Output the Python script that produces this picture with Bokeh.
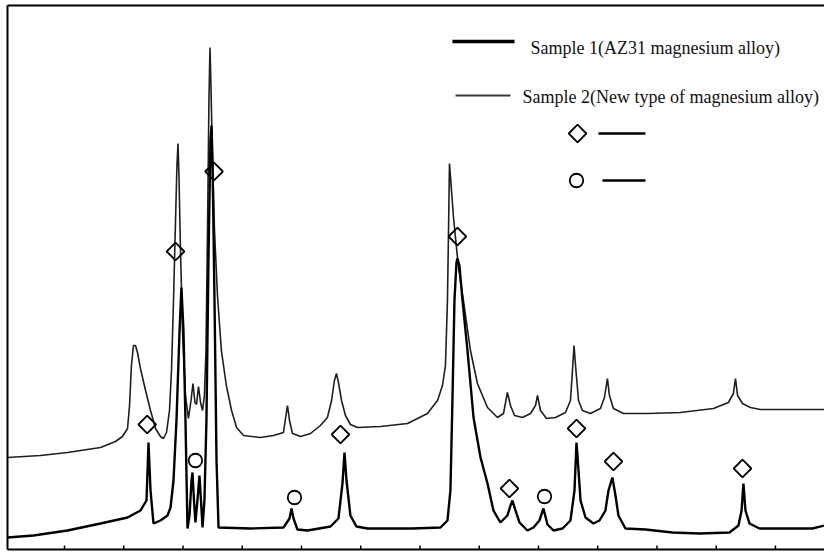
import numpy as np
from bokeh.plotting import figure
from bokeh.models import Range1d, FixedTicker, LinearAxis, ColumnDataSource
from bokeh.core.properties import value
from bokeh.embed import file_html
from bokeh.resources import INLINE

# ---------------- data (2-theta in degrees, intensity in arbitrary units) ----------------
x_ticks = [15, 20, 25, 30, 35, 40, 45, 50, 55, 60, 65, 70, 75]

sample1_2theta = [10.19, 12.38, 15.25, 18.04, 20.32, 21.41, 21.92, 22.09, 22.26, 22.51,
                  23.10, 23.69, 23.95, 24.20, 24.45, 24.71, 24.87, 25.04, 25.21, 25.38,
                  25.55, 25.72, 25.80, 25.93, 26.05, 26.22, 26.39, 26.52, 26.65, 26.81,
                  26.98, 27.15, 27.32, 27.41, 27.49, 27.66, 27.83, 28.00, 30.70, 33.48,
                  33.99, 34.16, 34.33, 34.66, 35.51, 37.45, 38.12, 38.46, 38.63, 38.80,
                  39.13, 39.64, 40.57, 44.37, 46.73, 47.32, 47.57, 47.74, 47.91, 48.08,
                  48.16, 48.33, 48.59, 49.01, 49.52, 50.11, 50.70, 51.20, 51.79, 52.38,
                  52.64, 52.81, 52.98, 53.40, 54.07, 54.58, 55.08, 55.42, 55.76, 56.27,
                  57.03, 57.70, 58.04, 58.21, 58.38, 58.55, 58.97, 59.64, 60.15, 60.65,
                  60.91, 61.24, 61.50, 61.75, 62.34, 64.03, 66.31, 68.59, 71.12, 71.88,
                  72.14, 72.30, 72.47, 72.81, 73.65, 78.12, 79.14]
sample1_intensity = [12, 14, 19, 26, 32, 39, 49, 107, 59, 26,
                     29, 34, 42, 69, 129, 219, 262, 219, 129, 21,
                     34, 69, 77, 49, 27, 49, 74, 49, 22, 49,
                     129, 289, 409, 424, 389, 249, 89, 22, 21, 22,
                     31, 41, 31, 20, 19, 23, 31, 66, 97, 69,
                     34, 23, 21, 21, 22, 29, 59, 149, 249, 287,
                     291, 284, 249, 199, 132, 92, 66, 39, 27, 34,
                     44, 49, 42, 27, 19, 22, 29, 41, 25, 19,
                     21, 29, 59, 107, 79, 49, 32, 26, 29, 39,
                     59, 72, 54, 34, 21, 20, 17, 16, 17, 24,
                     39, 66, 39, 26, 21, 21, 24]

sample2_2theta = [10.19, 12.97, 15.25, 18.04, 19.30, 19.89, 20.32, 20.49, 20.65, 20.82,
                  20.99, 21.16, 21.41, 21.84, 22.26, 22.68, 23.10, 23.35, 23.61, 23.86,
                  24.03, 24.20, 24.37, 24.49, 24.58, 24.66, 24.79, 24.96, 25.21, 25.46,
                  25.68, 25.84, 26.01, 26.14, 26.31, 26.48, 26.65, 26.81, 26.94, 27.07,
                  27.19, 27.28, 27.36, 27.49, 27.66, 27.91, 28.24, 28.66, 29.10, 29.52,
                  30.11, 31.54, 32.64, 33.48, 33.69, 33.82, 33.99, 34.24, 34.92, 35.76,
                  36.60, 37.19, 37.54, 37.78, 37.95, 38.12, 38.38, 38.71, 39.13, 39.73,
                  41.67, 43.95, 45.63, 46.48, 46.90, 47.15, 47.32, 47.41, 47.49, 47.57,
                  47.66, 47.83, 48.25, 48.67, 49.26, 49.85, 50.70, 51.54, 52.05, 52.38,
                  52.64, 52.98, 53.65, 54.33, 54.75, 54.92, 55.17, 55.68, 56.43, 57.28,
                  57.70, 57.87, 58.00, 58.13, 58.38, 58.71, 59.39, 60.23, 60.57, 60.82,
                  60.99, 61.33, 62.17, 64.20, 66.98, 69.77, 71.03, 71.45, 71.63, 71.80,
                  72.22, 72.89, 73.73, 79.14]
sample2_intensity = [92, 94, 97, 102, 108, 113, 121, 144, 184, 204,
                     204, 197, 181, 159, 139, 121, 113, 111, 117, 139,
                     179, 249, 329, 384, 406, 374, 299, 219, 154, 131,
                     149, 166, 147, 145, 163, 147, 139, 154, 199, 319,
                     449, 502, 464, 389, 319, 254, 199, 164, 139, 122,
                     114, 112, 114, 117, 134, 144, 129, 116, 113, 116,
                     124, 132, 149, 169, 176, 167, 149, 134, 125, 122,
                     123, 126, 136, 149, 164, 184, 249, 319, 386, 374,
                     359, 332, 282, 249, 199, 166, 142, 132, 136, 157,
                     144, 134, 132, 136, 144, 154, 139, 131, 132, 137,
                     149, 179, 204, 184, 149, 139, 136, 141, 152, 171,
                     154, 141, 136, 136, 137, 141, 147, 156, 171, 154,
                     146, 142, 140, 140]

diamond_2theta = [21.98, 24.37, 27.62, 38.29, 48.16, 52.55, 58.21, 61.33, 72.22]
diamond_intensity = [125, 298, 378, 115, 313, 61, 121, 88, 81]
circle_2theta = [26.05, 34.41, 55.51]
circle_intensity = [89, 52, 53]

legend_labels = ["Sample 1(AZ31 magnesium alloy)", "Sample 2(New type of magnesium alloy)"]

# ---------------- figure ----------------
p = figure(width=824, height=552, output_backend="svg", toolbar_location=None,
           x_range=Range1d(10.19, 79.14), y_range=Range1d(0, 544),
           min_border_left=7, min_border_right=0, min_border_top=5, min_border_bottom=3,
           background_fill_color="white", border_fill_color="white")
p.outline_line_color = None
p.xgrid.visible = False
p.ygrid.visible = False


def style_axis(ax):
    ax.axis_line_color = "black"
    ax.axis_line_width = 2
    ax.major_tick_in = 0
    ax.major_tick_out = 0
    ax.minor_tick_in = 0
    ax.minor_tick_out = 0
    ax.major_tick_line_color = None
    ax.minor_tick_line_color = None
    ax.major_label_text_color = None
    ax.major_label_text_font_size = "0px"
    ax.major_label_standoff = 0
    ax.axis_label = None
    ax.ticker = FixedTicker(ticks=[])


style_axis(p.xaxis[0])
style_axis(p.yaxis[0])
top_axis = LinearAxis()
style_axis(top_axis)
p.add_layout(top_axis, "above")

# inward tick marks on the bottom axis, placed at the tick values
tick_len = 4
p.segment(x0=x_ticks, y0=[0] * len(x_ticks), x1=x_ticks, y1=[tick_len] * len(x_ticks),
          line_color="black", line_width=1.5)

# traces
p.line(sample2_2theta, sample2_intensity, line_color="#1e1e1e", line_width=1.6)
p.line(sample1_2theta, sample1_intensity, line_color="black", line_width=2.4)

# phase markers
p.scatter(diamond_2theta, diamond_intensity, marker="square", angle=np.pi / 4, size=12.5,
          fill_alpha=0, line_color="black", line_width=1.8)
p.scatter(circle_2theta, circle_intensity, marker="circle", size=13.5,
          fill_alpha=0, line_color="black", line_width=1.8)

# legend (drawn by hand, as in the original)
p.line([47.74, 52.98], [508, 508], line_color="black", line_width=3.5)
p.line([48.00, 52.64], [454, 454], line_color="#3a3a3a", line_width=2.2)
p.scatter([58.30], [416], marker="square", angle=np.pi / 4, size=12.5,
          fill_alpha=0, line_color="black", line_width=1.8)
p.line([60.06, 64.03], [416, 416], line_color="black", line_width=2.5)
p.scatter([58.21], [369], marker="circle", size=13.5,
          fill_alpha=0, line_color="black", line_width=1.8)
p.line([60.40, 64.03], [369, 369], line_color="black", line_width=2.5)

src = ColumnDataSource(dict(x=[54.33, 53.65], y=[502, 453], t=legend_labels))
p.text(x="x", y="y", text="t", source=src, text_font=value("Liberation Serif"),
       text_font_size=value("18px"), text_color="#111111", text_align="left",
       text_baseline="alphabetic")

open("out.html", "w").write(file_html(p, INLINE))
